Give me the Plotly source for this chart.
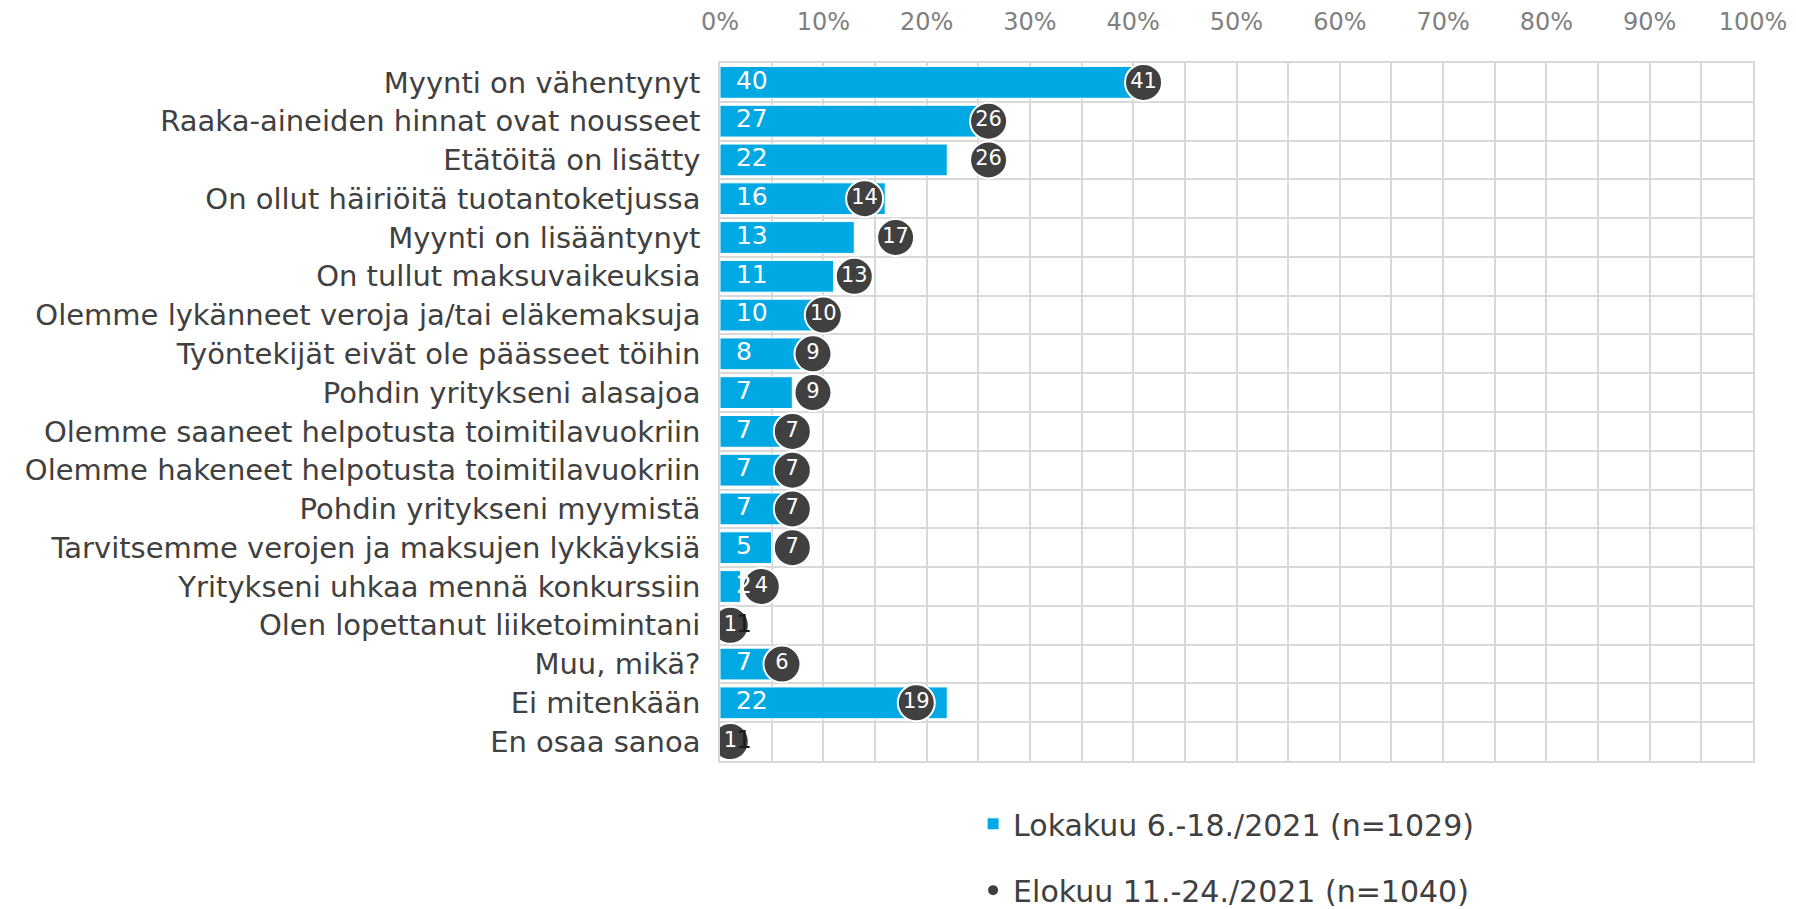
import plotly.graph_objects as go

categories = [
    "Myynti on vähentynyt",
    "Raaka-aineiden hinnat ovat nousseet",
    "Etätöitä on lisätty",
    "On ollut häiriöitä tuotantoketjussa",
    "Myynti on lisääntynyt",
    "On tullut maksuvaikeuksia",
    "Olemme lykänneet veroja ja/tai eläkemaksuja",
    "Työntekijät eivät ole päässeet töihin",
    "Pohdin yritykseni alasajoa",
    "Olemme saaneet helpotusta toimitilavuokriin",
    "Olemme hakeneet helpotusta toimitilavuokriin",
    "Pohdin yritykseni myymistä",
    "Tarvitsemme verojen ja maksujen lykkäyksiä",
    "Yritykseni uhkaa mennä konkurssiin",
    "Olen lopettanut liiketoimintani",
    "Muu, mikä?",
    "Ei mitenkään",
    "En osaa sanoa",
]
lokakuu = [40, 27, 22, 16, 13, 11, 10, 8, 7, 7, 7, 7, 5, 2, 1, 7, 22, 1]
elokuu = [41, 26, 26, 14, 17, 13, 10, 9, 9, 7, 7, 7, 7, 4, 1, 6, 19, 1]
series_names = ["Lokakuu 6.-18./2021 (n=1029)", "Elokuu 11.-24./2021 (n=1040)"]
x_tickvals = [0, 10, 20, 30, 40, 50, 60, 70, 80, 90, 100]
x_ticktext = ["0%", "10%", "20%", "30%", "40%", "50%", "60%", "70%", "80%", "90%", "100%"]

FONT = "DejaVu Sans"
BLUE = "#00A9E4"
DARK = "#404040"
GRID = "#d9d9d9"

pos = list(range(len(categories)))
base = [0] * len(categories)
bar_text_colors = ["white" if v >= 2 else "#1a1a1a" for v in lokakuu]

fig = go.Figure()
fig.add_trace(go.Bar(
    x=lokakuu, y=pos, orientation="h", name=series_names[0],
    marker=dict(color=BLUE, line=dict(color="white", width=1)),
    legend="legend", hoverinfo="x+y",
))
fig.add_trace(go.Scatter(
    x=elokuu, y=pos, mode="markers", name=series_names[1],
    marker=dict(color=DARK, size=37, line=dict(color="white", width=2)),
    legend="legend2",
))
fig.add_trace(go.Scatter(
    x=elokuu, y=pos, mode="text", text=[str(v) for v in elokuu],
    textposition="middle center",
    textfont=dict(family=FONT, size=21, color="white"),
    showlegend=False, hoverinfo="skip",
))
fig.add_trace(go.Scatter(
    x=base, y=pos, mode="text", text=[str(v) for v in lokakuu],
    texttemplate="\u00a0\u00a0%{text}",
    textposition="middle right",
    textfont=dict(family=FONT, size=25, color=bar_text_colors),
    showlegend=False, hoverinfo="skip",
))

fig.update_layout(
    width=1796, height=909,
    margin=dict(l=720, r=43, t=63, b=148, autoexpand=False),
    paper_bgcolor="white", plot_bgcolor="white",
    font=dict(family=FONT, color=DARK),
    bargap=0.18,
    xaxis=dict(
        side="top", range=[0, 100], tickmode="array",
        tickvals=x_tickvals, ticktext=x_ticktext,
        tickfont=dict(size=24, color="#808080"),
        showgrid=True, gridcolor=GRID, gridwidth=1.5,
        minor=dict(tickmode="linear", tick0=0, dtick=5, showgrid=True,
                   gridcolor=GRID, gridwidth=1.5),
        zeroline=False, showline=True, mirror=True, linecolor=GRID, linewidth=1.5,
        ticks="", ticklabelstandoff=22, fixedrange=True, automargin=False,
    ),
    yaxis=dict(
        range=[len(categories) - 0.5, -0.5], tickmode="array",
        tickvals=pos, ticktext=categories,
        tickfont=dict(size=29, color=DARK),
        showgrid=False,
        minor=dict(tickmode="linear", tick0=0.5, dtick=1, showgrid=True,
                   gridcolor=GRID, gridwidth=1.5),
        zeroline=False, showline=True, mirror=True, linecolor=GRID, linewidth=1.5,
        ticks="", ticklabelstandoff=12, fixedrange=True, automargin=False,
    ),
    legend=dict(x=0.245, xanchor="left", y=-0.09, yanchor="middle",
                font=dict(size=30, color=DARK), bgcolor="rgba(0,0,0,0)"),
    legend2=dict(x=0.245, xanchor="left", y=-0.185, yanchor="middle",
                 font=dict(size=30, color=DARK), bgcolor="rgba(0,0,0,0)",
                 itemsizing="constant"),
)

fig.write_html("out.html", config={"displayModeBar": False},
               post_script="document.body.style.margin='0';")
